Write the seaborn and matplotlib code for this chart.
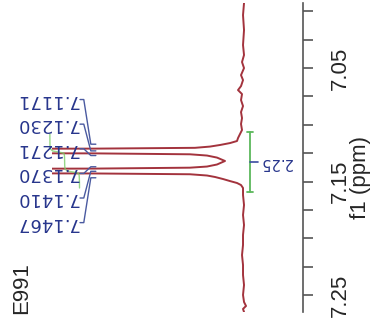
import numpy as np
import matplotlib
matplotlib.use("Agg")
import matplotlib.pyplot as plt
from matplotlib.ticker import FixedLocator, MultipleLocator
import seaborn as sns

# spectrum trace (ppm, intensity in arbitrary units)
ppm = [6.9927, 7.0033, 7.0165, 7.0297, 7.0385, 7.0447, 7.0500, 7.0562, 7.0606,
       7.0659, 7.0694, 7.0729, 7.0782, 7.0835, 7.0888, 7.0941, 7.0993, 7.1046,
       7.1081, 7.1117, 7.1143, 7.1161, 7.1178, 7.1192, 7.1203, 7.1210, 7.1216,
       7.1231, 7.1246, 7.1252, 7.1260, 7.1271, 7.1289, 7.1319, 7.1350, 7.1368,
       7.1378, 7.1386, 7.1393, 7.1407, 7.1422, 7.1429, 7.1436, 7.1447, 7.1460,
       7.1478, 7.1496, 7.1513, 7.1531, 7.1557, 7.1619, 7.1707, 7.1795, 7.1883,
       7.1971, 7.2059, 7.2148, 7.2236, 7.2324, 7.2412, 7.2500, 7.2562, 7.2597,
       7.2623, 7.2650]
intensity = [1, 2, 1, 2, 1, 3, 1, 4, 2,
             4, 7, 3, 4, 2, 4, 3, 4, 3,
             5, 7, 8, 15, 25, 35, 50, 150, 600,
             3000, 600, 150, 55, 38, 28, 20, 28, 38,
             55, 150, 600, 3000, 600, 150, 55, 38, 30,
             22, 15, 8, 4, 2, 2, 1, 2, 1,
             2, 2, 3, 2, 2, 1, 2, 1, -1,
             2, 1]

peak_ppm = [7.1171, 7.1230, 7.1271, 7.1370, 7.1410, 7.1467]
integral_range = [7.1064, 7.1592]
integral_value = "2.25"
sample_name = "E991"
tick_values = [7.05, 7.15, 7.25]

sns.set_style("white")
plt.rcParams["font.family"] = ["Liberation Sans", "DejaVu Sans"]

fig = plt.figure(figsize=(3.76, 3.29), dpi=100)
ax = fig.add_axes([0.138, 0.0517, 0.668, 0.939])

sns.lineplot(x=intensity, y=ppm, orient="y", sort=False, estimator=None,
             color="#a3333d", lw=1.4, ax=ax)

ax.set_ylim(7.265, 6.9927)
ax.set_xlim(193, -58)

for s in ["left", "top", "bottom"]:
    ax.spines[s].set_visible(False)
ax.spines["right"].set_color("#555555")
ax.spines["right"].set_linewidth(1.2)
ax.xaxis.set_visible(False)

ax.yaxis.tick_right()
ax.yaxis.set_major_locator(FixedLocator(tick_values))
ax.yaxis.set_minor_locator(MultipleLocator(0.025))
ax.tick_params(axis="y", which="both", direction="out", length=7, width=1.2,
               color="#555555", right=True, left=False)
ax.tick_params(axis="y", which="major", labelsize=16, pad=12)
ax.set_yticklabels([f"{v:.2f}" for v in tick_values], rotation=90, va="center")
ax.set_ylabel("f1 (ppm)", fontsize=16)
ax.yaxis.set_label_position("right")
ax.yaxis.set_label_coords(1.187, 0.434)

# peak labels with connectors
trans = ax.get_yaxis_transform()
center = np.mean(peak_ppm)
spacing = 0.0217
for i, p in enumerate(peak_ppm):
    ly = center + (i - 2.5) * spacing
    ax.plot([0.112, 0.127, 0.155, 0.175], [ly, ly, p, p], transform=trans,
            color="#4a5aa0", lw=1, clip_on=False)
    ax.text(0.104, ly, f"{p:.4f}", transform=trans, rotation=180,
            rotation_mode="anchor", ha="left", va="center", fontsize=13,
            color="#27358c", family=["DejaVu Sans"], clip_on=False)

# integral curve
ppm_arr = np.array(ppm)
int_arr = np.array(intensity, dtype=float)
m = (ppm_arr >= integral_range[0]) & (ppm_arr <= integral_range[1])
seg_ppm = ppm_arr[m][::-1]
cum = np.cumsum(int_arr[m][::-1])
ax.plot(0.11 - 0.118 * cum / cum[-1], seg_ppm, transform=trans,
        color="#7ccf6a", lw=1, alpha=0.8, clip_on=False)

# integral bar and value
mid = np.mean(integral_range)
ax.plot([-5, -5], integral_range, color="#5cb85c", lw=1.3)
for r in integral_range:
    ax.plot([-2, -8], [r, r], color="#5cb85c", lw=1.3)
ax.plot([-5, -13], [mid, mid], color="#3a4aa0", lw=1.2)
ax.text(-30, mid, integral_value, rotation=180, ha="center", va="center",
        fontsize=10.5, color="#27358c", family=["DejaVu Sans"])

fig.text(22 / 376, 1 - 288 / 329, sample_name, rotation=90, ha="center",
         va="center", fontsize=16)

fig.savefig("out.png", dpi=100)
